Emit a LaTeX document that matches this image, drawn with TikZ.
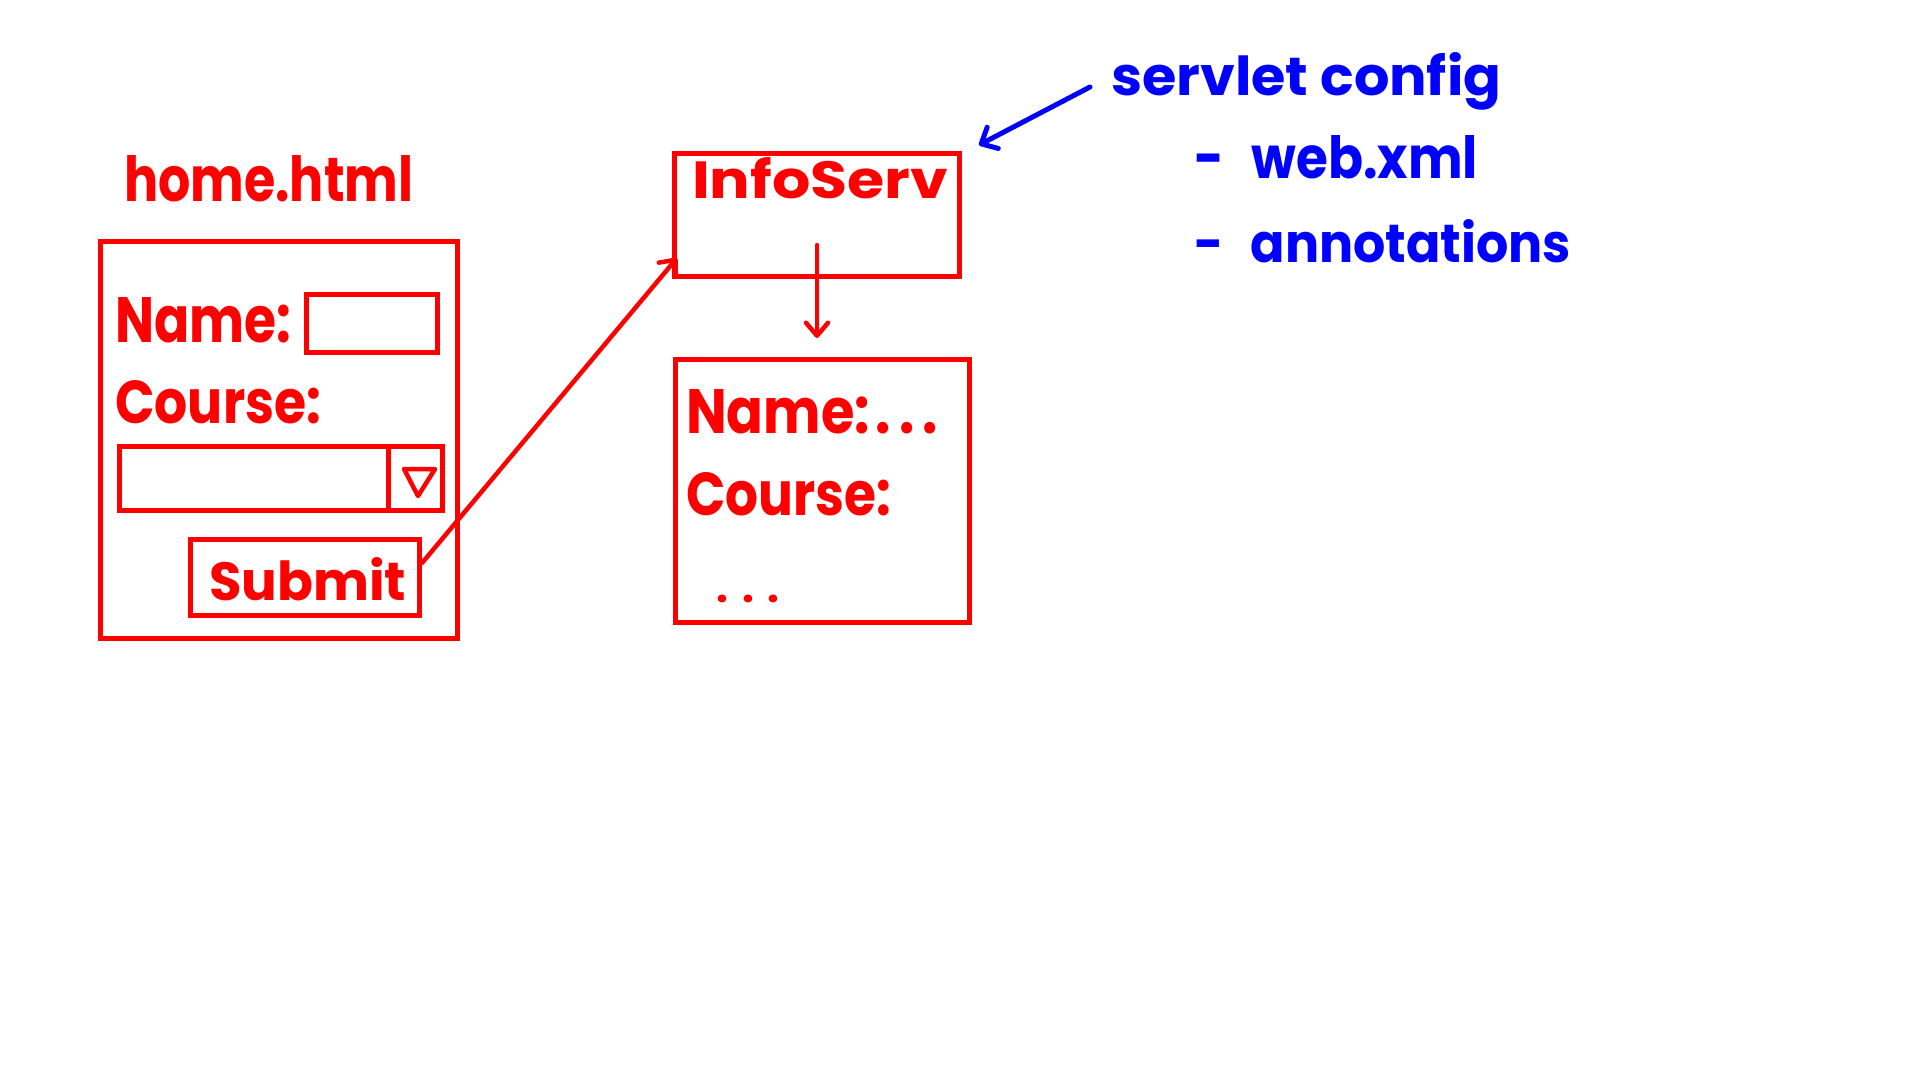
\documentclass[tikz,border=0pt]{standalone}
\usepackage{fontspec}
\setmainfont{Poppins}
\usetikzlibrary{arrows.meta,calc}
\definecolor{pr}{RGB}{255,0,0}
\definecolor{pb}{RGB}{0,0,255}
\newcommand{\fitbox}[3]{\resizebox{#1pt}{#2pt}{#3}}
\tikzset{
  box/.style={draw=pr, line width=5pt, inner sep=0pt, rectangle},
  rtxt/.style={text=pr, inner sep=0pt, anchor=base west, font=\fontsize{58}{60}\selectfont\bfseries},
  btxt/.style={text=pb, inner sep=0pt, anchor=base west, font=\fontsize{56}{60}\selectfont\bfseries},
  rarrow/.style={draw=pr, line width=4.5pt, line cap=round, -{Straight Barb[length=13pt,width=22pt,line width=4.5pt,round]}},
  barrow/.style={draw=pb, line width=5pt, line cap=round, -{Straight Barb[length=13pt,width=24pt,line width=5pt,round]}},
}
\begin{document}
\begin{tikzpicture}[x=1pt,y=-1pt]
\useasboundingbox[fill=white] (0,0) rectangle (1920,1080);

% form page
\node[rtxt] (hometitle) at (124,201) {\fitbox{289}{46}{home.html}};
\node[box, minimum width=357pt, minimum height=397pt] (form) at (279,440) {};
\node[rtxt] (namelbl) at (115,342) {\fitbox{176}{45}{Name:}};
\node[box, minimum width=131pt, minimum height=58pt] (nameinput) at (372,323.5) {};
\node[rtxt] (courselbl) at (115,423) {\fitbox{206}{43}{Course:}};
\node[box, minimum width=323pt, minimum height=64pt] (dropdown) at (281,478.5) {};
\coordinate (divtop) at (388,446);
\coordinate (divbot) at (388,511);
\draw[draw=pr, line width=5pt] (divtop) -- (divbot);
\draw[draw=pr, line width=4.5pt, line join=round, line cap=round] (404,469) -- (435,469) -- (418,496) -- cycle;
\node[box, minimum width=229pt, minimum height=76pt] (submit) at (305,577.5) {};
\node[rtxt] (submittxt) at (209,600) {\fitbox{197}{43}{Submit}};

% servlet
\node[box, minimum width=285pt, minimum height=123pt] (infoserv) at (817,215) {};
\node[rtxt] (infoservtxt) at (692,198) {\fitbox{256}{41}{InfoServ}};

% response page
\node[box, minimum width=294pt, minimum height=263pt] (result) at (822.5,491) {};
\node[rtxt] (rname) at (686,433) {\fitbox{252}{44}{Name:\hspace{6pt}.\hspace{9pt}.\hspace{9pt}.}};
\node[rtxt] (rcourse) at (686,515) {\fitbox{205}{43}{Course:}};
\node[rtxt, font=\fontsize{42}{44}\selectfont\bfseries] (rdots) at (716,602) {.\hspace{14pt}.\hspace{14pt}.};

% config notes
\node[btxt] (config) at (1111,95) {\fitbox{390}{43}{servlet config}};
\node[btxt] (webxml) at (1194,178) {\fitbox{284}{43}{-\hspace{30pt}web.xml}};
\node[btxt] (annot) at (1194,262) {\fitbox{377}{43}{-\hspace{30pt}annotations}};
\coordinate (cfgstart) at (1090,87);

% connectors
\draw[rarrow] ([yshift=14.5pt]submit.east) -- ([shift={(5pt,-43pt)}]infoserv.west);
\draw[rarrow] ([yshift=34pt]infoserv.south) -- ([yshift=19pt]infoserv.south |- result.north);
\draw[barrow] (cfgstart) -- ([shift={(17pt,6pt)}]infoserv.north east);
\end{tikzpicture}
\end{document}
